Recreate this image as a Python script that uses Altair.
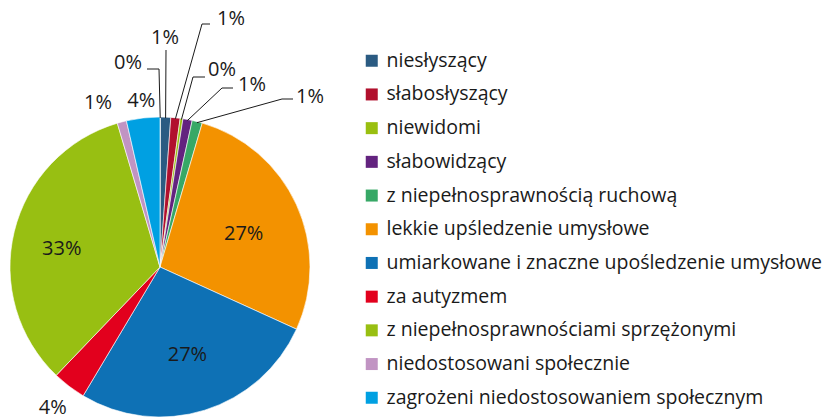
import math
import altair as alt
import pandas as pd

# ---------------- data ----------------
categories = [
    "",  # unnamed 0% slice at the very top (no legend entry)
    "niesłyszący",
    "słabosłyszący",
    "niewidomi",
    "słabowidzący",
    "z niepełnosprawnością ruchową",
    "lekkie upśledzenie umysłowe",
    "umiarkowane i znaczne upośledzenie umysłowe",
    "za autyzmem",
    "z niepełnosprawnościami sprzężonymi",
    "niedostosowani społecznie",
    "zagrożeni niedostosowaniem społecznym",
]
values = [0.05, 1.1, 1.0, 0.3, 1.0, 1.1, 27.3, 26.8, 3.6, 33.3, 1.0, 3.6]
labels = ["0%", "1%", "1%", "0%", "1%", "1%", "27%", "27%", "4%", "33%", "1%", "4%"]

colors = ["#2b5b82", "#b1102d", "#99bf10", "#63237f", "#37a866", "#f39200",
          "#0e71b5", "#e2001d", "#98bf12", "#c194c3", "#00a0e2"]

# ---------------- layout (pixels) ----------------
W, H = 824, 419
CX, CY = 160, 267          # pie centre in the picture
R = 150                    # pie radius
FONT = "Open Sans"
LABEL_FS = 20
LEGEND_FS = 19.5

# labels placed on a radius at the slice's mid-angle: (radius, angle nudge in degrees)
placed = {6: (90, 3), 7: (92, 0), 9: (100, -3), 8: (177, 0), 11: (167, 0), 10: (175, -6)}
# labels with leader lines: elbow point, end point (relative to centre, y up), text anchor
leaders = {
    0: ((-1, 198), (-13, 198), (-18, 204, "right")),
    1: ((6, 217), (6, 217), (5, 229, "center")),
    2: ((42, 243), (50, 243), (57, 248, "left")),
    3: ((33, 190), (45, 190), (48, 197, "left")),
    4: ((62, 179), (73, 179), (78, 182, "left")),
    5: ((122, 168), (133, 168), (136, 170, "left")),
}

total = sum(values)
rows, lab_rows, line_rows = [], [], []
cum = 0.0
for i, (c, v, t) in enumerate(zip(categories, values, labels)):
    a0 = cum / total * 360
    cum += v
    a1 = cum / total * 360
    mid = (a0 + a1) / 2
    rows.append({"cat": c, "value": v, "idx": i})
    if i in placed:
        r, d = placed[i]
        ang = math.radians(mid + d)
        lab_rows.append({"x": r * math.sin(ang), "y": r * math.cos(ang), "t": t, "al": "center"})
    if i in leaders:
        (ex, ey), (fx, fy), (tx, ty, al) = leaders[i]
        ang = math.radians(mid)
        sx, sy = (R - 1) * math.sin(ang), (R - 1) * math.cos(ang)
        for k, (px, py) in enumerate([(sx, sy), (ex, ey), (fx, fy)]):
            line_rows.append({"lid": i, "k": k, "x": px, "y": py})
        lab_rows.append({"x": tx, "y": ty, "t": t, "al": al})

df = pd.DataFrame(rows)
lab = pd.DataFrame(lab_rows)
lines = pd.DataFrame(line_rows)

xs = alt.Scale(domain=[-CX, W - CX], nice=False, zero=False)
ys = alt.Scale(domain=[CY - H, CY], nice=False, zero=False)

legend_domain = categories[1:]

pie = alt.Chart(df).mark_arc(outerRadius=R, stroke="white", strokeWidth=0.6).encode(
    theta=alt.Theta("value:Q", stack=True),
    order=alt.Order("idx:Q"),
    x=alt.X(datum=0, scale=xs, axis=None),
    y=alt.Y(datum=0, scale=ys, axis=None),
    color=alt.Color(
        "cat:N",
        scale=alt.Scale(domain=legend_domain, range=colors),
        sort=legend_domain,
        legend=alt.Legend(
            title=None, orient="none", legendX=362, legendY=51,
            symbolType="square", symbolSize=144, symbolStrokeWidth=0,
            labelFont=FONT, labelFontSize=LEGEND_FS, labelColor="#1a1a1a",
            labelOffset=5, labelLimit=700, rowPadding=12.7, padding=0,
        ),
    ),
)

lead = alt.Chart(lines).mark_line(color="#1a1a1a", strokeWidth=1).encode(
    x=alt.X("x:Q", scale=xs, axis=None),
    y=alt.Y("y:Q", scale=ys, axis=None),
    detail="lid:N",
    order="k:Q",
)

def txt(al):
    return alt.Chart(lab[lab["al"] == al]).mark_text(
        font=FONT, fontSize=LABEL_FS, color="#1a1a1a", align=al, baseline="middle"
    ).encode(
        x=alt.X("x:Q", scale=xs, axis=None),
        y=alt.Y("y:Q", scale=ys, axis=None),
        text="t:N",
    )

chart = alt.layer(pie, lead, txt("center"), txt("left"), txt("right")).properties(
    width=W, height=H, padding=0, autosize=alt.AutoSizeParams(type="none")
).configure_view(stroke=None)

chart.save("out.html", embed_options={"renderer": "svg", "actions": False})
